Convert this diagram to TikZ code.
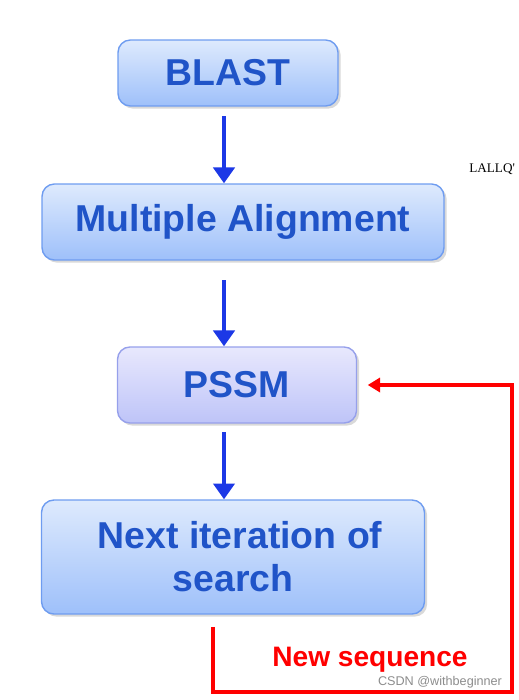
\documentclass[tikz,border=0pt]{standalone}
\usepackage{fontspec}
\setmainfont{Liberation Sans}
\newfontfamily\serifsmall{Liberation Serif}
\usetikzlibrary{arrows.meta,positioning,calc,shadows}
\definecolor{boxtop}{RGB}{222,234,253}
\definecolor{boxbot}{RGB}{158,192,250}
\definecolor{lavtop}{RGB}{232,232,253}
\definecolor{lavbot}{RGB}{190,196,248}
\definecolor{boxedge}{RGB}{110,156,240}
\definecolor{lavedge}{RGB}{150,160,235}
\definecolor{textblue}{RGB}{32,84,200}
\definecolor{arrowblue}{RGB}{28,56,230}
\definecolor{loopred}{RGB}{255,0,0}

\tikzset{
  stepbox/.style={draw=boxedge,line width=0.8pt,rounded corners=7pt,
    top color=boxtop,bottom color=boxbot,text=textblue,align=center,
    font=\fontsize{21.3}{24.5}\selectfont\bfseries,
    drop shadow={shadow xshift=1.5pt,shadow yshift=-1.5pt,fill=black!25,opacity=0.6}},
  lavbox/.style={stepbox,draw=lavedge,top color=lavtop,bottom color=lavbot},
  flowarrow/.style={arrowblue,line width=2.4pt,-{Triangle[width=12pt,length=9pt]}},
  loopline/.style={loopred,line width=2.4pt,-{Triangle[width=8pt,length=7pt]}}
}

\begin{document}
\begin{tikzpicture}[x=0.02cm,y=-0.02cm]
\useasboundingbox (0,0) rectangle (519,700);

% boxes
\node[stepbox,minimum width=4.4cm,minimum height=1.32cm] (blast) at (228,73) {BLAST};
\node[stepbox,minimum width=8.04cm,minimum height=1.52cm] (malign) at (243,222) {Multiple Alignment};
\node[lavbox,minimum width=4.78cm,minimum height=1.52cm] (pssm) at (237,385) {PSSM};
\node[stepbox,minimum width=7.66cm,minimum height=2.28cm] (nextit) at (233,557) {\hspace*{8pt}Next iteration of\\search};

% arrows down
\coordinate (ax) at (224,0);
\draw[flowarrow] ([yshift=-5.5pt]blast.south -| ax) -- (malign.north -| ax);
\draw[flowarrow] ([yshift=-11pt]malign.south -| ax) -- (pssm.north -| ax);
\draw[flowarrow] ([yshift=-5pt]pssm.south -| ax) -- (nextit.north -| ax);

% loop back
\coordinate (lx) at (213,0);
\coordinate (corner) at (512,692);
\draw[loopline,rounded corners=0pt] ([yshift=-7pt]nextit.south -| lx) |- (corner) |- ([xshift=6pt]pssm.east);
\node[text=loopred,font=\fontsize{16}{18}\selectfont\bfseries] (newseq) at (370,660) {New sequence};

% stray text
\node[anchor=west,font=\serifsmall\fontsize{7.5}{9}\selectfont,inner sep=0pt] (lallq) at (469,169) {LALLQ'};
\node[text=black!45,font=\fontsize{7.2}{9}\selectfont,inner sep=0pt] (mark) at (440,682) {CSDN @withbeginner};
\end{tikzpicture}
\end{document}
